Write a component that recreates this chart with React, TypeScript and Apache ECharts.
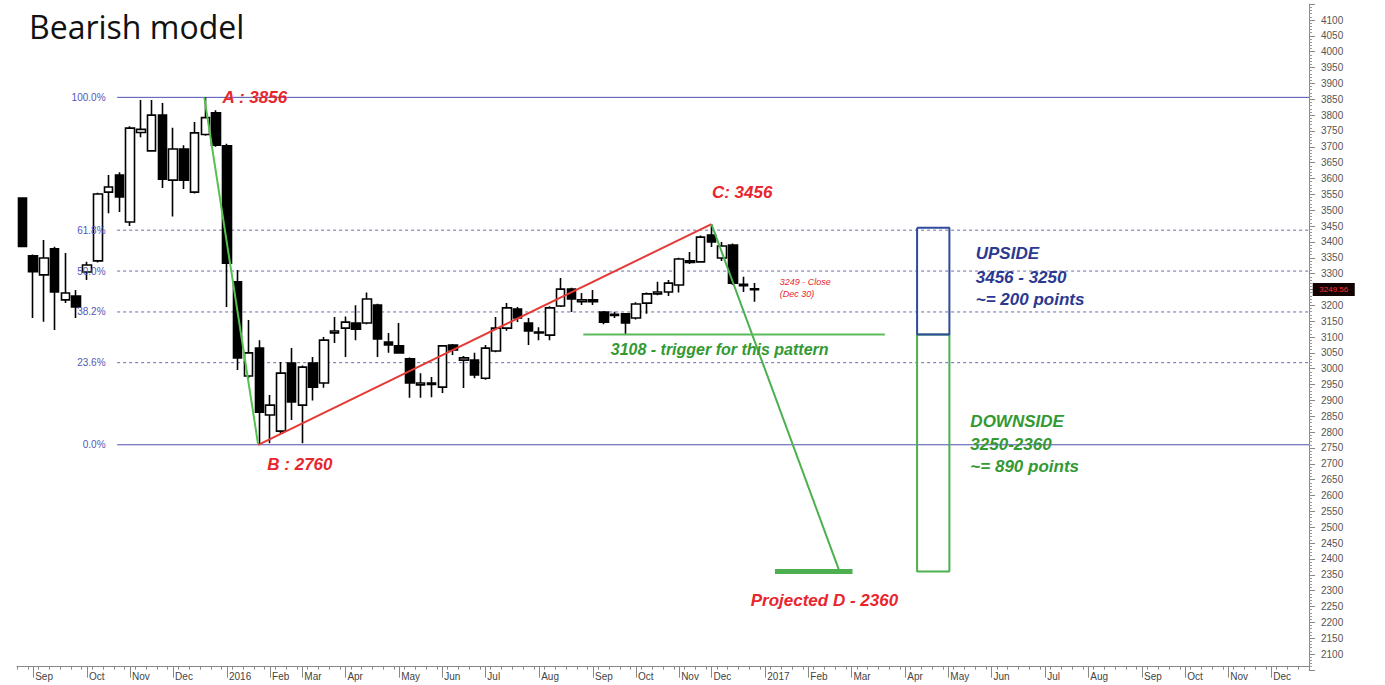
import React, { useEffect, useRef } from 'react';
import * as echarts from 'echarts';

// ---------- data ----------
const WEEK_COUNT = 120;
const weeks: string[] = Array.from({ length: WEEK_COUNT }, (_, i) => `W${i}`);

const monthLabels: [number, string][] = [
  [1, 'Sep'], [6, 'Oct'], [10, 'Nov'], [14, 'Dec'], [19, '2016'], [23, 'Feb'], [26, 'Mar'],
  [30, 'Apr'], [35, 'May'], [39, 'Jun'], [43, 'Jul'], [48, 'Aug'], [53, 'Sep'], [57, 'Oct'],
  [61, 'Nov'], [64, 'Dec'], [69, '2017'], [73, 'Feb'], [77, 'Mar'], [82, 'Apr'], [86, 'May'],
  [90, 'Jun'], [95, 'Jul'], [99, 'Aug'], [104, 'Sep'], [108, 'Oct'], [112, 'Nov'], [116, 'Dec'],
];

const opens = [
  3538, 3356, 3296, 3378, 3217, 3229, 3305, 3340, 3557, 3611, 3463, 3745, 3687, 3800, 3595, 3693,
  3557, 3739, 3807, 3703, 3274, 2977, 3065, 2854, 2803, 3018, 2885, 3018, 2955, 3113, 3128, 3144,
  3144, 3201, 3084, 3072, 3031, 2949, 2955, 2942, 3075, 3027, 3027, 2970, 3056, 3128, 3188, 3144,
  3113, 3106, 3198, 3251, 3211, 3217, 3179, 3168, 3173, 3160, 3207, 3236, 3242, 3264, 3335, 3337,
  3422, 3349, 3390, 3262, 3252,
];
const closes = [
  3386, 3306, 3349, 3242, 3239, 3195, 3327, 3551, 3573, 3542, 3759, 3755, 3800, 3598, 3693, 3595,
  3744, 3792, 3705, 3333, 3034, 3050, 2863, 2885, 2986, 2895, 3005, 2942, 3090, 3119, 3147, 3125,
  3220, 3094, 3075, 3050, 2955, 2955, 2950, 3072, 3059, 3034, 2980, 3065, 3128, 3192, 3160, 3119,
  3116, 3192, 3251, 3220, 3217, 3211, 3147, 3172, 3144, 3204, 3236, 3242, 3270, 3346, 3340, 3415,
  3400, 3387, 3270, 3266, 3249,
];
const lows = [
  3384, 3160, 3148, 3122, 3207, 3160, 3280, 3335, 3490, 3494, 3450, 3730, 3685, 3570, 3480, 3567,
  3553, 3735, 3700, 3195, 2996, 2970, 2760, 2765, 2795, 2838, 2765, 2900, 2940, 3081, 3037, 3090,
  3140, 3037, 3050, 3047, 2908, 2908, 2910, 2923, 3043, 2939, 2970, 2965, 3052, 3120, 3147, 3075,
  3090, 3090, 3195, 3179, 3201, 3201, 3140, 3160, 3108, 3155, 3173, 3232, 3229, 3240, 3330, 3335,
  3384, 3340, 3264, 3242, 3211,
];
const highs = [
  3538, 3360, 3406, 3385, 3365, 3248, 3337, 3555, 3611, 3620, 3765, 3848, 3848, 3838, 3760, 3705,
  3778, 3856, 3815, 3710, 3311, 3154, 3090, 2917, 3021, 3065, 3010, 3037, 3100, 3163, 3165, 3200,
  3240, 3205, 3113, 3144, 3035, 2986, 2974, 3075, 3078, 3040, 3050, 3075, 3163, 3207, 3195, 3160,
  3131, 3197, 3286, 3255, 3239, 3248, 3182, 3180, 3176, 3210, 3240, 3274, 3280, 3350, 3368, 3420,
  3456, 3400, 3395, 3290, 3270,
];

// Fibonacci retracement levels (A = 3856, B = 2760)
const fibLevels = [
  { label: '100.0%', price: 3856, solid: true },
  { label: '61.8%', price: 3437, solid: false },
  { label: '50.0%', price: 3308, solid: false },
  { label: '38.2%', price: 3179, solid: false },
  { label: '23.6%', price: 3019, solid: false },
  { label: '0.0%', price: 2760, solid: true },
];

// pattern points (week position, price)
const pointA = [16.9, 3856];
const pointB = [21.9, 2760];
const pointC = [64.0, 3456];
const pointD = [75.9, 2360];
const lastClose = 3249.56;
const triggerPrice = 3108;
const upsideTop = 3445;
const projectedD = 2360;

// ---------- styles ----------
const RED = '#e8262d';
const GREEN = '#4caf50';
const GREEN_TXT = '#339933';
const BLUE_TXT = '#2b3990';
const FIB = '#5050b0';
const FONT = 'Liberation Sans, Arial, sans-serif';

const monthMap = new Map<number, string>(monthLabels);

function lineSeries(data: number[][], color: string, width: number, type: any = 'solid', z = 3) {
  return {
    type: 'line',
    xAxisIndex: 2,
    yAxisIndex: 0,
    data,
    symbol: 'none',
    silent: true,
    clip: false,
    lineStyle: { color, width, type },
    z,
  };
}

type Note = { text: string; week: number; price: number; color: string; size: number; bold?: boolean };

const notes: Note[] = [
  { text: 'A : 3856', week: 18.55, price: 3856, color: RED, size: 17, bold: true },
  { text: 'C: 3456', week: 64.0, price: 3557, color: RED, size: 17, bold: true },
  { text: 'B : 2760', week: 22.7, price: 2699, color: RED, size: 17, bold: true },
  { text: '3108 - trigger for this pattern', week: 54.6, price: 3059, color: GREEN_TXT, size: 16, bold: true },
  { text: 'Projected D - 2360', week: 67.6, price: 2270, color: RED, size: 17, bold: true },
  { text: '3249 - Close', week: 70.3, price: 3272, color: RED, size: 9 },
  { text: '(Dec 30)', week: 70.3, price: 3237, color: RED, size: 9 },
  { text: 'UPSIDE', week: 88.5, price: 3362, color: BLUE_TXT, size: 17, bold: true },
  { text: '3456 - 3250', week: 88.5, price: 3289, color: BLUE_TXT, size: 17, bold: true },
  { text: '~= 200 points', week: 88.5, price: 3217, color: BLUE_TXT, size: 17, bold: true },
  { text: 'DOWNSIDE', week: 88.0, price: 2832, color: GREEN_TXT, size: 17, bold: true },
  { text: '3250-2360', week: 88.0, price: 2760, color: GREEN_TXT, size: 17, bold: true },
  { text: '~= 890 points', week: 88.0, price: 2690, color: GREEN_TXT, size: 17, bold: true },
];

export default function App() {
  const ref = useRef<HTMLDivElement>(null);

  useEffect(() => {
    if (!ref.current) return;
    const chart = echarts.init(ref.current, undefined, { renderer: 'svg' });

    const candleData = opens.map((o, i) => [o, closes[i], lows[i], highs[i]]);
    const fibStart = 8.8;
    const fibEnd = 119.5;

    const series: any[] = [];

    fibLevels.forEach((f) => {
      series.push(
        lineSeries(
          [[fibStart, f.price], [fibEnd, f.price]],
          f.solid ? FIB : '#6a6aa8',
          1,
          f.solid ? 'solid' : [3, 3],
          1
        )
      );
    });

    series.push({
      type: 'candlestick',
      xAxisIndex: 0,
      yAxisIndex: 0,
      data: candleData,
      barWidth: 9,
      z: 2,
      itemStyle: {
        color: '#ffffff',
        color0: '#000000',
        borderColor: '#000000',
        borderColor0: '#000000',
        borderWidth: 1.6,
      },
    });

    series.push(lineSeries([pointA, pointB], '#56c24e', 2, 'solid', 4));
    series.push(lineSeries([pointB, pointC], '#e53a35', 2, 'solid', 4));
    series.push(lineSeries([pointC, pointD], GREEN, 2, 'solid', 4));
    series.push(lineSeries([[69.9, projectedD], [77.1, projectedD]], GREEN, 5, 'solid', 4));
    series.push(lineSeries([[52.1, triggerPrice], [80.1, triggerPrice]], '#5cba5c', 2, 'solid', 4));

    series.push(
      lineSeries(
        [[83.1, triggerPrice], [86.1, triggerPrice], [86.1, projectedD], [83.1, projectedD], [83.1, triggerPrice]],
        GREEN,
        2,
        'solid',
        4
      )
    );
    series.push(
      lineSeries(
        [[83.1, upsideTop], [86.1, upsideTop], [86.1, triggerPrice], [83.1, triggerPrice], [83.1, upsideTop]],
        '#2e4a9a',
        2,
        'solid',
        5
      )
    );

    series.push({
      type: 'scatter',
      xAxisIndex: 2,
      yAxisIndex: 0,
      clip: false,
      silent: true,
      symbolSize: 1,
      itemStyle: { color: 'rgba(0,0,0,0)', opacity: 1 },
      z: 6,
      data: notes.map((n) => ({
        value: [n.week, n.price],
        label: {
          show: true,
          position: 'right',
          distance: 0,
          formatter: n.text,
          color: n.color,
          fontSize: n.size,
          fontFamily: FONT,
          fontWeight: n.bold ? 'bold' : 'normal',
          fontStyle: 'italic',
        },
      })),
    });

    series.push({
      type: 'scatter',
      xAxisIndex: 2,
      yAxisIndex: 0,
      clip: false,
      silent: true,
      symbolSize: 1,
      itemStyle: { color: 'rgba(0,0,0,0)', opacity: 1 },
      z: 6,
      data: fibLevels.map((f) => ({
        value: [7.77, f.price],
        label: {
          show: true,
          position: 'left',
          distance: 0,
          formatter: f.label,
          color: '#5656b8',
          fontSize: 10,
          fontFamily: FONT,
        },
      })),
    });

    series.push({
      type: 'scatter',
      xAxisIndex: 2,
      yAxisIndex: 0,
      clip: false,
      silent: true,
      symbol: 'rect',
      symbolSize: [42, 13],
      itemStyle: { color: '#120202', opacity: 1 },
      z: 10,
      data: [
        {
          value: [121.8, lastClose],
          label: {
            show: true,
            position: 'inside',
            formatter: lastClose.toFixed(2),
            color: '#ff3030',
            fontSize: 8,
            fontFamily: FONT,
          },
        },
      ],
    });

    chart.setOption({
      animation: false,
      backgroundColor: '#ffffff',
      title: {
        text: 'Bearish model',
        left: 24,
        top: 5,
        textStyle: { fontSize: 32, fontWeight: 'normal', fontFamily: 'Open Sans, sans-serif', color: '#111' },
      },
      grid: [
        { left: 17, right: 76, top: 13.66, bottom: 18.32 },
        { left: 17, right: 76, top: 4.15, bottom: 15.15 },
      ],
      xAxis: [
        {
          type: 'category',
          gridIndex: 0,
          data: weeks,
          boundaryGap: true,
          axisLine: { show: true, onZero: false, lineStyle: { color: '#888', width: 1 } },
          axisTick: { show: true, interval: 0, length: 3, lineStyle: { color: '#888' } },
          axisLabel: {
            show: true,
            interval: (i: number) => monthMap.has(i),
            formatter: (_v: string, i: number) => monthMap.get(i) || '',
            align: 'left',
            margin: 5,
            fontSize: 10,
            color: '#444',
            fontFamily: FONT,
            padding: [0, 0, 0, 2],
          },
          splitLine: { show: false },
        },
        {
          type: 'category',
          gridIndex: 0,
          data: weeks,
          position: 'bottom',
          axisLine: { show: false, onZero: false },
          axisLabel: { show: false },
          axisTick: {
            show: true,
            alignWithLabel: true,
            interval: (i: number) => monthMap.has(i),
            length: 11,
            lineStyle: { color: '#888' },
          },
          splitLine: { show: false },
        },
        { type: 'value', gridIndex: 0, min: -0.5, max: 119.5, show: false },
        { type: 'value', gridIndex: 1, min: 0, max: 1, show: false },
      ],
      yAxis: [
        { type: 'value', gridIndex: 0, min: 2060, max: 4120, show: false, axisLine: { onZero: false }, splitLine: { show: false } },
        {
          type: 'value',
          gridIndex: 1,
          min: 2050,
          max: 4150,
          interval: 50,
          position: 'right',
          axisLine: { show: true, onZero: false, lineStyle: { color: '#888' } },
          axisTick: { show: true, length: 6, lineStyle: { color: '#888' } },
          minorTick: { show: true, splitNumber: 5, length: 3, lineStyle: { color: '#999' } },
          splitLine: { show: false },
          axisLabel: {
            margin: 12,
            fontSize: 10,
            color: '#555',
            fontFamily: FONT,
            formatter: (v: number) => (v === 2050 || v === 4150 || v === 3250 ? '' : String(v)),
          },
        },
      ],
      series,
    });

    return () => chart.dispose();
  }, []);

  return (
    <div
      ref={ref}
      style={{ position: 'fixed', left: 0, top: 0, width: 1385, height: 685, background: '#fff' }}
    />
  );
}
